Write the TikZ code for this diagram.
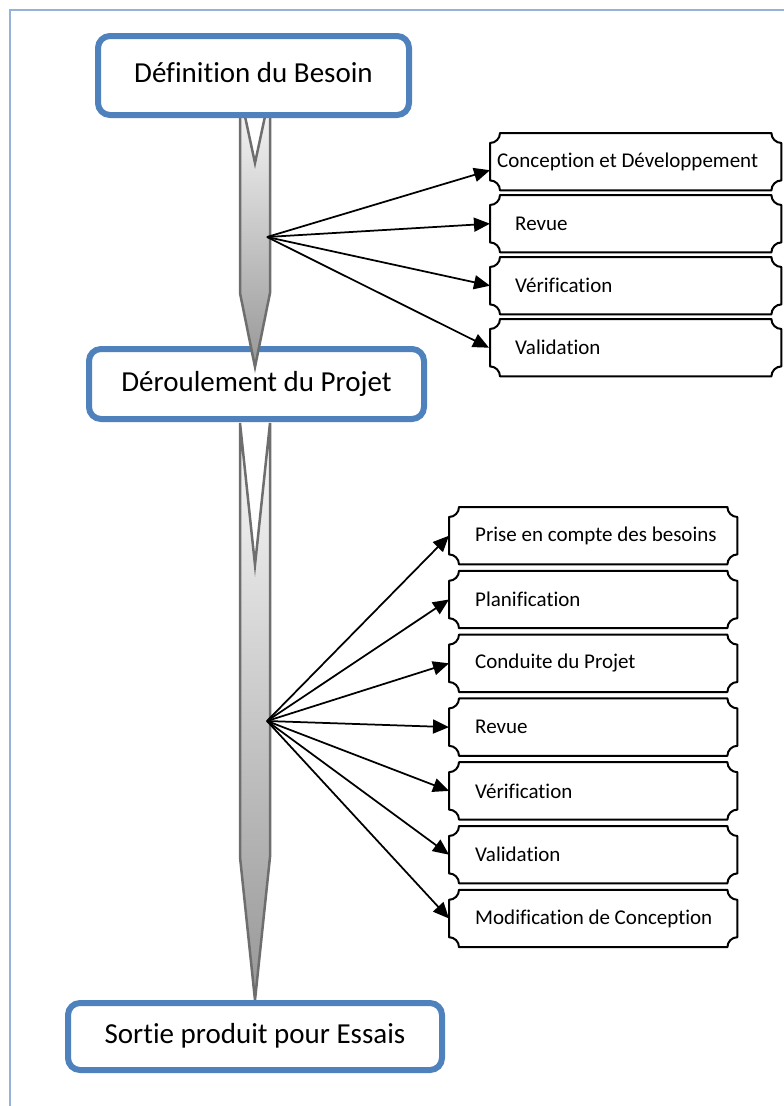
\documentclass[tikz,border=0pt]{standalone}
\usepackage{fontspec}
\setmainfont{Carlito}[Ligatures={NoCommon}]
\usetikzlibrary{arrows.meta}

\definecolor{boxblue}{HTML}{4F81BD}
\definecolor{edgeblue}{HTML}{95B3D7}
\definecolor{shaftgray}{HTML}{6E6E6E}
\definecolor{shafttop}{HTML}{FAFAFA}
\definecolor{shaftbottom}{HTML}{979797}

\tikzset{
  stagebox/.style={draw=boxblue, line width=6pt, rounded corners=12pt, fill=white,
    font=\fontsize{29}{34}\selectfont, inner sep=0pt, text depth=6pt},
  taskbox/.style={anchor=north west, minimum height=57pt, align=flush left,
    font=\fontsize{21}{25}\selectfont, inner ysep=0pt},
  taskwide/.style={text width=277pt, inner xsep=7pt},
  taskupper/.style={text width=241pt, inner xsep=25pt},
  tasklower/.style={text width=236pt, inner xsep=26pt},
  plaqueline/.style={draw=black, line width=2pt, line join=round},
  flowshaft/.style={draw=shaftgray, line width=2.5pt, top color=shafttop, bottom color=shaftbottom},
  link/.style={draw=black, line width=1.75pt, -{Triangle[length=16pt,width=14pt]}},
  pageedge/.style={draw=edgeblue, line width=1.5pt}
}

% outline with concave quarter-circle corners around a task node
\newcommand\plaqueframe[1]{%
  \draw[plaqueline] ([xshift=10pt]#1.north west) -- ([xshift=-10pt]#1.north east)
    .. controls ([xshift=-10pt,yshift=-5.5pt]#1.north east) and ([xshift=-5.5pt,yshift=-10pt]#1.north east) .. ([yshift=-10pt]#1.north east)
    -- ([yshift=10pt]#1.south east)
    .. controls ([xshift=-5.5pt,yshift=10pt]#1.south east) and ([xshift=-10pt,yshift=5.5pt]#1.south east) .. ([xshift=-10pt]#1.south east)
    -- ([xshift=10pt]#1.south west)
    .. controls ([xshift=10pt,yshift=5.5pt]#1.south west) and ([xshift=5.5pt,yshift=10pt]#1.south west) .. ([yshift=10pt]#1.south west)
    -- ([yshift=-10pt]#1.north west)
    .. controls ([xshift=5.5pt,yshift=-10pt]#1.north west) and ([xshift=10pt,yshift=-5.5pt]#1.north west) .. cycle;}

\begin{document}
\begin{tikzpicture}[x=1pt,y=-1pt]
\useasboundingbox (0,0) rectangle (784,1106);
\draw[pageedge] (10,1106) -- (10,10) -- (784,10);

% lower notched shaft
\path[flowshaft] (240,423) -- (255,565) -- (270,423) -- (270,857) -- (255,1000) -- (240,857) -- cycle;

\node[stagebox, minimum width=374pt, minimum height=67pt] (out) at (255,1036.5) {Sortie produit pour Essais};
\node[stagebox, minimum width=335pt, minimum height=70pt] (run) at (256.5,384) {Déroulement du Projet};

% upper notched shaft
\path[flowshaft] (240,93) -- (255,163) -- (270,93) -- (270,293) -- (255,367) -- (240,293) -- cycle;

\node[stagebox, minimum width=311pt, minimum height=79pt] (need) at (253.5,75.5) {Définition du Besoin};

\coordinate (hub1) at (267,237);
\coordinate (hub2) at (267,721);

% tasks of the first stage
\node[taskbox, taskwide]  (d1) at (490,133) {\mbox{Conception et Développement}};
\node[taskbox, taskupper] (d2) at (490,195) {Revue};
\node[taskbox, taskupper] (d3) at (490,257) {Vérification};
\node[taskbox, taskupper] (d4) at (490,319) {Validation};

% tasks of the second stage
\node[taskbox, tasklower] (p1) at (449,507)   {\mbox{Prise en compte des besoins}};
\node[taskbox, tasklower] (p2) at (449,570.8) {Planification};
\node[taskbox, tasklower] (p3) at (449,634.6) {Conduite du Projet};
\node[taskbox, tasklower] (p4) at (449,698.4) {Revue};
\node[taskbox, tasklower] (p5) at (449,762.2) {Vérification};
\node[taskbox, tasklower] (p6) at (449,826)   {Validation};
\node[taskbox, tasklower] (p7) at (449,889.8) {\mbox{Modification de Conception}};

\foreach \t in {d1,d2,d3,d4,p1,p2,p3,p4,p5,p6,p7}{\plaqueframe{\t}}

\draw[link] (hub1) -- ([yshift=-8.5pt]d1.west);
\draw[link] (hub1) -- (d2.west);
\draw[link] (hub1) -- (d3.west);
\draw[link] (hub1) -- ([xshift=-1pt]d4.west);

\foreach \t in {p1,p2,p3,p4,p5,p6,p7}{\draw[link] (hub2) -- (\t.west);}
\end{tikzpicture}
\end{document}
